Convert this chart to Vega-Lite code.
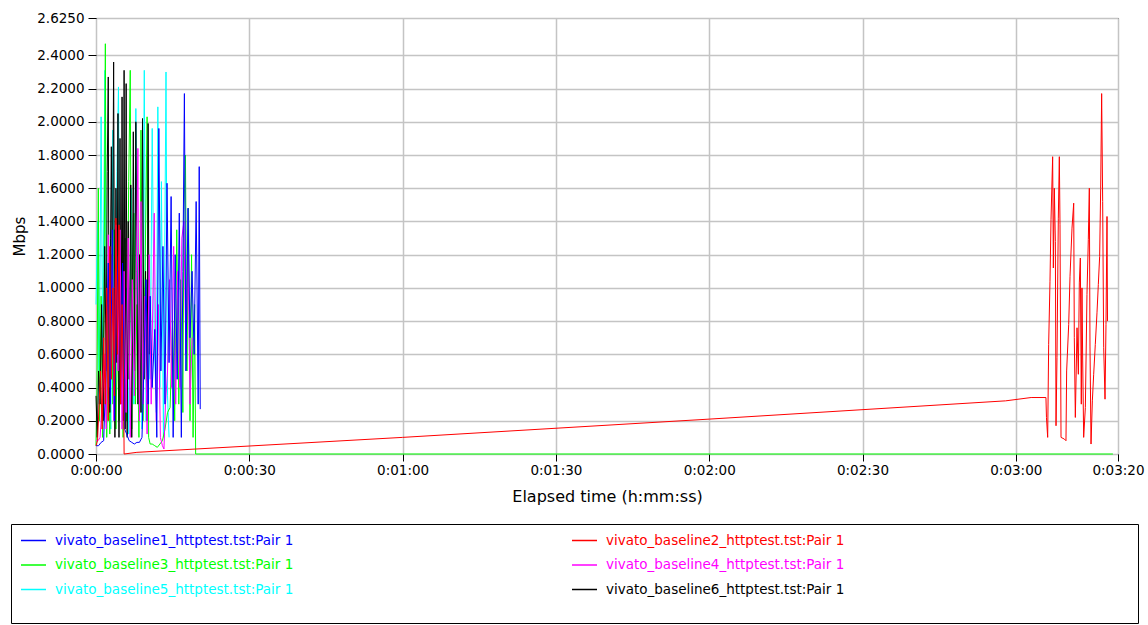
{
 "$schema": "https://vega.github.io/schema/vega-lite/v6.json",
 "padding": {"left": 10, "top": 10, "right": 0, "bottom": 0},
 "background": "#ffffff",
 "datasets": {
  "d": [
   {"series":"vivato_baseline5_httptest.tst:Pair 1","t":0.0,"mbps":0.9},{"series":"vivato_baseline5_httptest.tst:Pair 1","t":0.3,"mbps":1.4},{"series":"vivato_baseline5_httptest.tst:Pair 1","t":0.6,"mbps":0.3},{"series":"vivato_baseline5_httptest.tst:Pair 1","t":1.0,"mbps":2.03},{"series":"vivato_baseline5_httptest.tst:Pair 1","t":1.3,"mbps":0.6},{"series":"vivato_baseline5_httptest.tst:Pair 1","t":1.76,"mbps":2.31},{"series":"vivato_baseline5_httptest.tst:Pair 1","t":2.1,"mbps":0.2},{"series":"vivato_baseline5_httptest.tst:Pair 1","t":2.5,"mbps":1.1},{"series":"vivato_baseline5_httptest.tst:Pair 1","t":2.9,"mbps":0.15},{"series":"vivato_baseline5_httptest.tst:Pair 1","t":3.3,"mbps":1.95},{"series":"vivato_baseline5_httptest.tst:Pair 1","t":3.7,"mbps":0.4},{"series":"vivato_baseline5_httptest.tst:Pair 1","t":4.1,"mbps":1.7},{"series":"vivato_baseline5_httptest.tst:Pair 1","t":4.4,"mbps":2.21},{"series":"vivato_baseline5_httptest.tst:Pair 1","t":4.8,"mbps":0.35},{"series":"vivato_baseline5_httptest.tst:Pair 1","t":5.2,"mbps":1.25},{"series":"vivato_baseline5_httptest.tst:Pair 1","t":5.6,"mbps":0.15},{"series":"vivato_baseline5_httptest.tst:Pair 1","t":6.0,"mbps":1.0},{"series":"vivato_baseline5_httptest.tst:Pair 1","t":6.4,"mbps":0.12},{"series":"vivato_baseline5_httptest.tst:Pair 1","t":6.9,"mbps":1.6},{"series":"vivato_baseline5_httptest.tst:Pair 1","t":7.4,"mbps":0.3},{"series":"vivato_baseline5_httptest.tst:Pair 1","t":7.8,"mbps":2.08},{"series":"vivato_baseline5_httptest.tst:Pair 1","t":8.2,"mbps":0.6},{"series":"vivato_baseline5_httptest.tst:Pair 1","t":8.6,"mbps":1.1},{"series":"vivato_baseline5_httptest.tst:Pair 1","t":9.0,"mbps":0.15},{"series":"vivato_baseline5_httptest.tst:Pair 1","t":9.45,"mbps":2.31},{"series":"vivato_baseline5_httptest.tst:Pair 1","t":9.8,"mbps":0.2},{"series":"vivato_baseline5_httptest.tst:Pair 1","t":10.2,"mbps":1.05},{"series":"vivato_baseline5_httptest.tst:Pair 1","t":10.6,"mbps":0.45},{"series":"vivato_baseline5_httptest.tst:Pair 1","t":11.0,"mbps":1.96},{"series":"vivato_baseline5_httptest.tst:Pair 1","t":11.4,"mbps":0.7},{"series":"vivato_baseline5_httptest.tst:Pair 1","t":11.8,"mbps":0.25},{"series":"vivato_baseline5_httptest.tst:Pair 1","t":12.1,"mbps":2.09},{"series":"vivato_baseline5_httptest.tst:Pair 1","t":12.5,"mbps":0.4},{"series":"vivato_baseline5_httptest.tst:Pair 1","t":12.8,"mbps":1.64},{"series":"vivato_baseline5_httptest.tst:Pair 1","t":13.2,"mbps":0.1},{"series":"vivato_baseline5_httptest.tst:Pair 1","t":13.7,"mbps":2.3},{"series":"vivato_baseline5_httptest.tst:Pair 1","t":14.0,"mbps":0.35},{"series":"vivato_baseline5_httptest.tst:Pair 1","t":14.3,"mbps":0.1},

   {"series":"vivato_baseline3_httptest.tst:Pair 1","t":0.0,"mbps":0.05},{"series":"vivato_baseline3_httptest.tst:Pair 1","t":0.2,"mbps":0.4},{"series":"vivato_baseline3_httptest.tst:Pair 1","t":0.45,"mbps":1.6},{"series":"vivato_baseline3_httptest.tst:Pair 1","t":0.7,"mbps":0.2},{"series":"vivato_baseline3_httptest.tst:Pair 1","t":1.0,"mbps":0.95},{"series":"vivato_baseline3_httptest.tst:Pair 1","t":1.3,"mbps":0.1},{"series":"vivato_baseline3_httptest.tst:Pair 1","t":1.6,"mbps":1.1},{"series":"vivato_baseline3_httptest.tst:Pair 1","t":1.83,"mbps":2.47},{"series":"vivato_baseline3_httptest.tst:Pair 1","t":2.1,"mbps":0.1},{"series":"vivato_baseline3_httptest.tst:Pair 1","t":2.4,"mbps":0.9},{"series":"vivato_baseline3_httptest.tst:Pair 1","t":2.7,"mbps":0.12},{"series":"vivato_baseline3_httptest.tst:Pair 1","t":3.0,"mbps":1.2},{"series":"vivato_baseline3_httptest.tst:Pair 1","t":3.3,"mbps":0.3},{"series":"vivato_baseline3_httptest.tst:Pair 1","t":3.6,"mbps":1.35},{"series":"vivato_baseline3_httptest.tst:Pair 1","t":3.9,"mbps":0.15},{"series":"vivato_baseline3_httptest.tst:Pair 1","t":4.2,"mbps":0.75},{"series":"vivato_baseline3_httptest.tst:Pair 1","t":4.5,"mbps":0.2},{"series":"vivato_baseline3_httptest.tst:Pair 1","t":4.9,"mbps":1.05},{"series":"vivato_baseline3_httptest.tst:Pair 1","t":5.3,"mbps":0.1},{"series":"vivato_baseline3_httptest.tst:Pair 1","t":5.7,"mbps":1.3},{"series":"vivato_baseline3_httptest.tst:Pair 1","t":6.0,"mbps":0.2},{"series":"vivato_baseline3_httptest.tst:Pair 1","t":6.4,"mbps":1.64},{"series":"vivato_baseline3_httptest.tst:Pair 1","t":6.7,"mbps":2.31},{"series":"vivato_baseline3_httptest.tst:Pair 1","t":7.0,"mbps":0.15},{"series":"vivato_baseline3_httptest.tst:Pair 1","t":7.4,"mbps":1.45},{"series":"vivato_baseline3_httptest.tst:Pair 1","t":7.7,"mbps":0.3},{"series":"vivato_baseline3_httptest.tst:Pair 1","t":8.0,"mbps":0.9},{"series":"vivato_baseline3_httptest.tst:Pair 1","t":8.4,"mbps":0.1},{"series":"vivato_baseline3_httptest.tst:Pair 1","t":8.8,"mbps":1.95},{"series":"vivato_baseline3_httptest.tst:Pair 1","t":9.2,"mbps":0.2},{"series":"vivato_baseline3_httptest.tst:Pair 1","t":9.6,"mbps":1.1},{"series":"vivato_baseline3_httptest.tst:Pair 1","t":10.0,"mbps":2.03},{"series":"vivato_baseline3_httptest.tst:Pair 1","t":10.3,"mbps":0.1},{"series":"vivato_baseline3_httptest.tst:Pair 1","t":10.6,"mbps":0.06},{"series":"vivato_baseline3_httptest.tst:Pair 1","t":11.0,"mbps":0.06},{"series":"vivato_baseline3_httptest.tst:Pair 1","t":11.5,"mbps":0.05},{"series":"vivato_baseline3_httptest.tst:Pair 1","t":12.0,"mbps":0.04},{"series":"vivato_baseline3_httptest.tst:Pair 1","t":12.5,"mbps":0.06},{"series":"vivato_baseline3_httptest.tst:Pair 1","t":13.0,"mbps":0.08},{"series":"vivato_baseline3_httptest.tst:Pair 1","t":13.5,"mbps":0.15},{"series":"vivato_baseline3_httptest.tst:Pair 1","t":14.0,"mbps":0.25},{"series":"vivato_baseline3_httptest.tst:Pair 1","t":14.5,"mbps":0.28},{"series":"vivato_baseline3_httptest.tst:Pair 1","t":15.0,"mbps":0.8},{"series":"vivato_baseline3_httptest.tst:Pair 1","t":15.4,"mbps":0.2},{"series":"vivato_baseline3_httptest.tst:Pair 1","t":15.8,"mbps":1.35},{"series":"vivato_baseline3_httptest.tst:Pair 1","t":16.2,"mbps":0.3},{"series":"vivato_baseline3_httptest.tst:Pair 1","t":16.6,"mbps":1.05},{"series":"vivato_baseline3_httptest.tst:Pair 1","t":17.0,"mbps":0.25},{"series":"vivato_baseline3_httptest.tst:Pair 1","t":17.2,"mbps":1.47},{"series":"vivato_baseline3_httptest.tst:Pair 1","t":17.5,"mbps":1.8},{"series":"vivato_baseline3_httptest.tst:Pair 1","t":17.8,"mbps":0.5},{"series":"vivato_baseline3_httptest.tst:Pair 1","t":18.1,"mbps":1.48},{"series":"vivato_baseline3_httptest.tst:Pair 1","t":18.4,"mbps":0.2},{"series":"vivato_baseline3_httptest.tst:Pair 1","t":18.7,"mbps":1.2},{"series":"vivato_baseline3_httptest.tst:Pair 1","t":19.0,"mbps":0.1},{"series":"vivato_baseline3_httptest.tst:Pair 1","t":19.3,"mbps":0.9},{"series":"vivato_baseline3_httptest.tst:Pair 1","t":19.5,"mbps":0.0},{"series":"vivato_baseline3_httptest.tst:Pair 1","t":199.0,"mbps":0.0},

   {"series":"vivato_baseline6_httptest.tst:Pair 1","t":0.0,"mbps":0.35},{"series":"vivato_baseline6_httptest.tst:Pair 1","t":0.25,"mbps":0.1},{"series":"vivato_baseline6_httptest.tst:Pair 1","t":0.5,"mbps":0.5},{"series":"vivato_baseline6_httptest.tst:Pair 1","t":0.8,"mbps":0.3},{"series":"vivato_baseline6_httptest.tst:Pair 1","t":1.1,"mbps":0.9},{"series":"vivato_baseline6_httptest.tst:Pair 1","t":1.4,"mbps":0.2},{"series":"vivato_baseline6_httptest.tst:Pair 1","t":1.7,"mbps":1.25},{"series":"vivato_baseline6_httptest.tst:Pair 1","t":2.0,"mbps":0.5},{"series":"vivato_baseline6_httptest.tst:Pair 1","t":2.2,"mbps":1.7},{"series":"vivato_baseline6_httptest.tst:Pair 1","t":2.4,"mbps":2.27},{"series":"vivato_baseline6_httptest.tst:Pair 1","t":2.55,"mbps":0.6},{"series":"vivato_baseline6_httptest.tst:Pair 1","t":2.7,"mbps":0.25},{"series":"vivato_baseline6_httptest.tst:Pair 1","t":2.85,"mbps":1.3},{"series":"vivato_baseline6_httptest.tst:Pair 1","t":3.0,"mbps":1.85},{"series":"vivato_baseline6_httptest.tst:Pair 1","t":3.2,"mbps":0.9},{"series":"vivato_baseline6_httptest.tst:Pair 1","t":3.45,"mbps":2.36},{"series":"vivato_baseline6_httptest.tst:Pair 1","t":3.6,"mbps":1.0},{"series":"vivato_baseline6_httptest.tst:Pair 1","t":3.7,"mbps":0.1},{"series":"vivato_baseline6_httptest.tst:Pair 1","t":3.9,"mbps":1.6},{"series":"vivato_baseline6_httptest.tst:Pair 1","t":4.1,"mbps":0.55},{"series":"vivato_baseline6_httptest.tst:Pair 1","t":4.3,"mbps":2.05},{"series":"vivato_baseline6_httptest.tst:Pair 1","t":4.5,"mbps":0.1},{"series":"vivato_baseline6_httptest.tst:Pair 1","t":4.7,"mbps":1.9},{"series":"vivato_baseline6_httptest.tst:Pair 1","t":4.9,"mbps":0.3},{"series":"vivato_baseline6_httptest.tst:Pair 1","t":5.1,"mbps":2.15},{"series":"vivato_baseline6_httptest.tst:Pair 1","t":5.3,"mbps":0.2},{"series":"vivato_baseline6_httptest.tst:Pair 1","t":5.5,"mbps":2.31},{"series":"vivato_baseline6_httptest.tst:Pair 1","t":5.7,"mbps":0.15},{"series":"vivato_baseline6_httptest.tst:Pair 1","t":5.9,"mbps":2.23},{"series":"vivato_baseline6_httptest.tst:Pair 1","t":6.1,"mbps":0.1},{"series":"vivato_baseline6_httptest.tst:Pair 1","t":6.3,"mbps":1.4},{"series":"vivato_baseline6_httptest.tst:Pair 1","t":6.5,"mbps":0.45},{"series":"vivato_baseline6_httptest.tst:Pair 1","t":6.8,"mbps":1.62},{"series":"vivato_baseline6_httptest.tst:Pair 1","t":7.0,"mbps":0.1},{"series":"vivato_baseline6_httptest.tst:Pair 1","t":7.3,"mbps":1.94},{"series":"vivato_baseline6_httptest.tst:Pair 1","t":7.55,"mbps":0.5},{"series":"vivato_baseline6_httptest.tst:Pair 1","t":7.8,"mbps":2.0},{"series":"vivato_baseline6_httptest.tst:Pair 1","t":8.2,"mbps":0.3},{"series":"vivato_baseline6_httptest.tst:Pair 1","t":8.5,"mbps":1.2},{"series":"vivato_baseline6_httptest.tst:Pair 1","t":8.8,"mbps":0.25},{"series":"vivato_baseline6_httptest.tst:Pair 1","t":9.1,"mbps":2.02},{"series":"vivato_baseline6_httptest.tst:Pair 1","t":9.4,"mbps":0.45},{"series":"vivato_baseline6_httptest.tst:Pair 1","t":9.7,"mbps":1.1},{"series":"vivato_baseline6_httptest.tst:Pair 1","t":10.0,"mbps":0.2},{"series":"vivato_baseline6_httptest.tst:Pair 1","t":10.2,"mbps":1.99},{"series":"vivato_baseline6_httptest.tst:Pair 1","t":10.4,"mbps":0.6},

   {"series":"vivato_baseline4_httptest.tst:Pair 1","t":0.0,"mbps":0.08},{"series":"vivato_baseline4_httptest.tst:Pair 1","t":0.4,"mbps":0.08},{"series":"vivato_baseline4_httptest.tst:Pair 1","t":0.8,"mbps":0.1},{"series":"vivato_baseline4_httptest.tst:Pair 1","t":1.2,"mbps":0.3},{"series":"vivato_baseline4_httptest.tst:Pair 1","t":1.6,"mbps":0.6},{"series":"vivato_baseline4_httptest.tst:Pair 1","t":2.0,"mbps":0.15},{"series":"vivato_baseline4_httptest.tst:Pair 1","t":2.4,"mbps":1.32},{"series":"vivato_baseline4_httptest.tst:Pair 1","t":2.8,"mbps":0.4},{"series":"vivato_baseline4_httptest.tst:Pair 1","t":3.2,"mbps":1.2},{"series":"vivato_baseline4_httptest.tst:Pair 1","t":3.5,"mbps":0.2},{"series":"vivato_baseline4_httptest.tst:Pair 1","t":3.9,"mbps":1.38},{"series":"vivato_baseline4_httptest.tst:Pair 1","t":4.3,"mbps":0.5},{"series":"vivato_baseline4_httptest.tst:Pair 1","t":4.7,"mbps":1.35},{"series":"vivato_baseline4_httptest.tst:Pair 1","t":5.1,"mbps":0.15},{"series":"vivato_baseline4_httptest.tst:Pair 1","t":5.5,"mbps":1.1},{"series":"vivato_baseline4_httptest.tst:Pair 1","t":5.9,"mbps":0.25},{"series":"vivato_baseline4_httptest.tst:Pair 1","t":6.3,"mbps":1.3},{"series":"vivato_baseline4_httptest.tst:Pair 1","t":6.7,"mbps":0.1},{"series":"vivato_baseline4_httptest.tst:Pair 1","t":7.1,"mbps":1.05},{"series":"vivato_baseline4_httptest.tst:Pair 1","t":7.5,"mbps":0.35},{"series":"vivato_baseline4_httptest.tst:Pair 1","t":7.9,"mbps":1.1},{"series":"vivato_baseline4_httptest.tst:Pair 1","t":8.2,"mbps":1.84},{"series":"vivato_baseline4_httptest.tst:Pair 1","t":8.5,"mbps":0.2},{"series":"vivato_baseline4_httptest.tst:Pair 1","t":8.8,"mbps":1.52},{"series":"vivato_baseline4_httptest.tst:Pair 1","t":9.2,"mbps":0.3},{"series":"vivato_baseline4_httptest.tst:Pair 1","t":9.6,"mbps":0.95},{"series":"vivato_baseline4_httptest.tst:Pair 1","t":10.0,"mbps":0.12},{"series":"vivato_baseline4_httptest.tst:Pair 1","t":10.4,"mbps":1.2},{"series":"vivato_baseline4_httptest.tst:Pair 1","t":10.8,"mbps":0.3},{"series":"vivato_baseline4_httptest.tst:Pair 1","t":11.4,"mbps":1.45},{"series":"vivato_baseline4_httptest.tst:Pair 1","t":11.8,"mbps":0.2},{"series":"vivato_baseline4_httptest.tst:Pair 1","t":12.2,"mbps":0.9},{"series":"vivato_baseline4_httptest.tst:Pair 1","t":12.6,"mbps":0.1},{"series":"vivato_baseline4_httptest.tst:Pair 1","t":13.0,"mbps":0.05},{"series":"vivato_baseline4_httptest.tst:Pair 1","t":13.3,"mbps":0.03},{"series":"vivato_baseline4_httptest.tst:Pair 1","t":13.6,"mbps":0.3},{"series":"vivato_baseline4_httptest.tst:Pair 1","t":14.0,"mbps":0.5},{"series":"vivato_baseline4_httptest.tst:Pair 1","t":14.4,"mbps":1.05},{"series":"vivato_baseline4_httptest.tst:Pair 1","t":14.8,"mbps":0.4},{"series":"vivato_baseline4_httptest.tst:Pair 1","t":15.2,"mbps":1.25},{"series":"vivato_baseline4_httptest.tst:Pair 1","t":15.6,"mbps":0.3},{"series":"vivato_baseline4_httptest.tst:Pair 1","t":16.0,"mbps":1.1},{"series":"vivato_baseline4_httptest.tst:Pair 1","t":16.4,"mbps":0.4},{"series":"vivato_baseline4_httptest.tst:Pair 1","t":16.8,"mbps":1.3},{"series":"vivato_baseline4_httptest.tst:Pair 1","t":17.2,"mbps":1.4},{"series":"vivato_baseline4_httptest.tst:Pair 1","t":17.6,"mbps":0.6},{"series":"vivato_baseline4_httptest.tst:Pair 1","t":18.0,"mbps":1.2},{"series":"vivato_baseline4_httptest.tst:Pair 1","t":18.4,"mbps":0.3},{"series":"vivato_baseline4_httptest.tst:Pair 1","t":18.8,"mbps":0.7},

   {"series":"vivato_baseline1_httptest.tst:Pair 1","t":0.0,"mbps":0.05},{"series":"vivato_baseline1_httptest.tst:Pair 1","t":0.5,"mbps":0.05},{"series":"vivato_baseline1_httptest.tst:Pair 1","t":1.0,"mbps":0.07},{"series":"vivato_baseline1_httptest.tst:Pair 1","t":1.5,"mbps":0.08},{"series":"vivato_baseline1_httptest.tst:Pair 1","t":2.0,"mbps":0.55},{"series":"vivato_baseline1_httptest.tst:Pair 1","t":2.4,"mbps":1.15},{"series":"vivato_baseline1_httptest.tst:Pair 1","t":2.8,"mbps":0.3},{"series":"vivato_baseline1_httptest.tst:Pair 1","t":3.2,"mbps":1.35},{"series":"vivato_baseline1_httptest.tst:Pair 1","t":3.6,"mbps":0.2},{"series":"vivato_baseline1_httptest.tst:Pair 1","t":4.0,"mbps":0.9},{"series":"vivato_baseline1_httptest.tst:Pair 1","t":4.4,"mbps":1.2},{"series":"vivato_baseline1_httptest.tst:Pair 1","t":4.8,"mbps":0.4},{"series":"vivato_baseline1_httptest.tst:Pair 1","t":5.2,"mbps":1.15},{"series":"vivato_baseline1_httptest.tst:Pair 1","t":5.6,"mbps":0.15},{"series":"vivato_baseline1_httptest.tst:Pair 1","t":6.0,"mbps":0.12},{"series":"vivato_baseline1_httptest.tst:Pair 1","t":6.5,"mbps":0.08},{"series":"vivato_baseline1_httptest.tst:Pair 1","t":7.0,"mbps":0.07},{"series":"vivato_baseline1_httptest.tst:Pair 1","t":7.5,"mbps":0.06},{"series":"vivato_baseline1_httptest.tst:Pair 1","t":8.0,"mbps":0.07},{"series":"vivato_baseline1_httptest.tst:Pair 1","t":8.5,"mbps":0.07},{"series":"vivato_baseline1_httptest.tst:Pair 1","t":9.0,"mbps":0.1},{"series":"vivato_baseline1_httptest.tst:Pair 1","t":9.4,"mbps":0.55},{"series":"vivato_baseline1_httptest.tst:Pair 1","t":9.8,"mbps":1.05},{"series":"vivato_baseline1_httptest.tst:Pair 1","t":10.2,"mbps":0.3},{"series":"vivato_baseline1_httptest.tst:Pair 1","t":10.6,"mbps":0.95},{"series":"vivato_baseline1_httptest.tst:Pair 1","t":11.0,"mbps":0.4},{"series":"vivato_baseline1_httptest.tst:Pair 1","t":11.5,"mbps":0.75},{"series":"vivato_baseline1_httptest.tst:Pair 1","t":11.9,"mbps":0.1},{"series":"vivato_baseline1_httptest.tst:Pair 1","t":12.3,"mbps":1.96},{"series":"vivato_baseline1_httptest.tst:Pair 1","t":12.7,"mbps":0.5},{"series":"vivato_baseline1_httptest.tst:Pair 1","t":13.1,"mbps":1.25},{"series":"vivato_baseline1_httptest.tst:Pair 1","t":13.5,"mbps":0.3},{"series":"vivato_baseline1_httptest.tst:Pair 1","t":13.9,"mbps":1.63},{"series":"vivato_baseline1_httptest.tst:Pair 1","t":14.3,"mbps":0.55},{"series":"vivato_baseline1_httptest.tst:Pair 1","t":14.7,"mbps":1.55},{"series":"vivato_baseline1_httptest.tst:Pair 1","t":15.1,"mbps":0.1},{"series":"vivato_baseline1_httptest.tst:Pair 1","t":15.5,"mbps":1.2},{"series":"vivato_baseline1_httptest.tst:Pair 1","t":15.9,"mbps":0.45},{"series":"vivato_baseline1_httptest.tst:Pair 1","t":16.3,"mbps":1.45},{"series":"vivato_baseline1_httptest.tst:Pair 1","t":16.7,"mbps":0.1},{"series":"vivato_baseline1_httptest.tst:Pair 1","t":17.0,"mbps":1.1},{"series":"vivato_baseline1_httptest.tst:Pair 1","t":17.3,"mbps":2.17},{"series":"vivato_baseline1_httptest.tst:Pair 1","t":17.6,"mbps":0.5},{"series":"vivato_baseline1_httptest.tst:Pair 1","t":18.0,"mbps":1.48},{"series":"vivato_baseline1_httptest.tst:Pair 1","t":18.4,"mbps":0.7},{"series":"vivato_baseline1_httptest.tst:Pair 1","t":18.8,"mbps":1.1},{"series":"vivato_baseline1_httptest.tst:Pair 1","t":19.2,"mbps":0.6},{"series":"vivato_baseline1_httptest.tst:Pair 1","t":19.6,"mbps":1.52},{"series":"vivato_baseline1_httptest.tst:Pair 1","t":20.0,"mbps":0.3},{"series":"vivato_baseline1_httptest.tst:Pair 1","t":20.2,"mbps":1.73},{"series":"vivato_baseline1_httptest.tst:Pair 1","t":20.4,"mbps":0.27},

   {"series":"vivato_baseline2_httptest.tst:Pair 1","t":0.0,"mbps":0.05},{"series":"vivato_baseline2_httptest.tst:Pair 1","t":0.3,"mbps":0.08},{"series":"vivato_baseline2_httptest.tst:Pair 1","t":0.65,"mbps":0.33},{"series":"vivato_baseline2_httptest.tst:Pair 1","t":0.9,"mbps":0.5},{"series":"vivato_baseline2_httptest.tst:Pair 1","t":1.2,"mbps":0.15},{"series":"vivato_baseline2_httptest.tst:Pair 1","t":1.5,"mbps":0.7},{"series":"vivato_baseline2_httptest.tst:Pair 1","t":1.8,"mbps":0.3},{"series":"vivato_baseline2_httptest.tst:Pair 1","t":2.1,"mbps":1.0},{"series":"vivato_baseline2_httptest.tst:Pair 1","t":2.4,"mbps":0.2},{"series":"vivato_baseline2_httptest.tst:Pair 1","t":2.7,"mbps":1.25},{"series":"vivato_baseline2_httptest.tst:Pair 1","t":3.0,"mbps":0.45},{"series":"vivato_baseline2_httptest.tst:Pair 1","t":3.3,"mbps":1.0},{"series":"vivato_baseline2_httptest.tst:Pair 1","t":3.6,"mbps":0.35},{"series":"vivato_baseline2_httptest.tst:Pair 1","t":3.9,"mbps":1.42},{"series":"vivato_baseline2_httptest.tst:Pair 1","t":4.2,"mbps":0.6},{"series":"vivato_baseline2_httptest.tst:Pair 1","t":4.5,"mbps":1.38},{"series":"vivato_baseline2_httptest.tst:Pair 1","t":4.8,"mbps":0.3},{"series":"vivato_baseline2_httptest.tst:Pair 1","t":5.1,"mbps":0.9},{"series":"vivato_baseline2_httptest.tst:Pair 1","t":5.4,"mbps":0.45},{"series":"vivato_baseline2_httptest.tst:Pair 1","t":5.5,"mbps":0.0},{"series":"vivato_baseline2_httptest.tst:Pair 1","t":8.0,"mbps":0.01},{"series":"vivato_baseline2_httptest.tst:Pair 1","t":60.0,"mbps":0.1},{"series":"vivato_baseline2_httptest.tst:Pair 1","t":120.0,"mbps":0.21},{"series":"vivato_baseline2_httptest.tst:Pair 1","t":178.0,"mbps":0.32},{"series":"vivato_baseline2_httptest.tst:Pair 1","t":183.0,"mbps":0.34},{"series":"vivato_baseline2_httptest.tst:Pair 1","t":185.9,"mbps":0.34},{"series":"vivato_baseline2_httptest.tst:Pair 1","t":186.0,"mbps":0.22},{"series":"vivato_baseline2_httptest.tst:Pair 1","t":186.24,"mbps":0.1},{"series":"vivato_baseline2_httptest.tst:Pair 1","t":186.43,"mbps":0.66},{"series":"vivato_baseline2_httptest.tst:Pair 1","t":186.69,"mbps":1.04},{"series":"vivato_baseline2_httptest.tst:Pair 1","t":186.89,"mbps":1.41},{"series":"vivato_baseline2_httptest.tst:Pair 1","t":187.21,"mbps":1.79},{"series":"vivato_baseline2_httptest.tst:Pair 1","t":187.35,"mbps":1.12},{"series":"vivato_baseline2_httptest.tst:Pair 1","t":187.54,"mbps":1.6},{"series":"vivato_baseline2_httptest.tst:Pair 1","t":187.74,"mbps":1.28},{"series":"vivato_baseline2_httptest.tst:Pair 1","t":187.87,"mbps":0.17},{"series":"vivato_baseline2_httptest.tst:Pair 1","t":188.06,"mbps":0.58},{"series":"vivato_baseline2_httptest.tst:Pair 1","t":188.32,"mbps":1.42},{"series":"vivato_baseline2_httptest.tst:Pair 1","t":188.52,"mbps":1.79},{"series":"vivato_baseline2_httptest.tst:Pair 1","t":188.65,"mbps":1.38},{"series":"vivato_baseline2_httptest.tst:Pair 1","t":188.85,"mbps":0.1},{"series":"vivato_baseline2_httptest.tst:Pair 1","t":189.5,"mbps":0.09},{"series":"vivato_baseline2_httptest.tst:Pair 1","t":189.82,"mbps":0.08},{"series":"vivato_baseline2_httptest.tst:Pair 1","t":189.95,"mbps":0.5},{"series":"vivato_baseline2_httptest.tst:Pair 1","t":190.35,"mbps":0.78},{"series":"vivato_baseline2_httptest.tst:Pair 1","t":190.61,"mbps":1.07},{"series":"vivato_baseline2_httptest.tst:Pair 1","t":191.0,"mbps":1.36},{"series":"vivato_baseline2_httptest.tst:Pair 1","t":191.33,"mbps":1.51},{"series":"vivato_baseline2_httptest.tst:Pair 1","t":191.45,"mbps":0.7},{"series":"vivato_baseline2_httptest.tst:Pair 1","t":191.65,"mbps":0.22},{"series":"vivato_baseline2_httptest.tst:Pair 1","t":191.98,"mbps":0.76},{"series":"vivato_baseline2_httptest.tst:Pair 1","t":192.24,"mbps":0.48},{"series":"vivato_baseline2_httptest.tst:Pair 1","t":192.43,"mbps":1.03},{"series":"vivato_baseline2_httptest.tst:Pair 1","t":192.63,"mbps":1.18},{"series":"vivato_baseline2_httptest.tst:Pair 1","t":192.82,"mbps":0.3},{"series":"vivato_baseline2_httptest.tst:Pair 1","t":192.95,"mbps":1.0},{"series":"vivato_baseline2_httptest.tst:Pair 1","t":193.09,"mbps":0.56},{"series":"vivato_baseline2_httptest.tst:Pair 1","t":193.28,"mbps":0.1},{"series":"vivato_baseline2_httptest.tst:Pair 1","t":193.61,"mbps":0.28},{"series":"vivato_baseline2_httptest.tst:Pair 1","t":193.93,"mbps":0.96},{"series":"vivato_baseline2_httptest.tst:Pair 1","t":194.19,"mbps":1.29},{"series":"vivato_baseline2_httptest.tst:Pair 1","t":194.39,"mbps":1.6},{"series":"vivato_baseline2_httptest.tst:Pair 1","t":194.52,"mbps":0.65},{"series":"vivato_baseline2_httptest.tst:Pair 1","t":194.72,"mbps":0.06},{"series":"vivato_baseline2_httptest.tst:Pair 1","t":194.98,"mbps":0.32},{"series":"vivato_baseline2_httptest.tst:Pair 1","t":195.24,"mbps":0.48},{"series":"vivato_baseline2_httptest.tst:Pair 1","t":195.56,"mbps":0.66},{"series":"vivato_baseline2_httptest.tst:Pair 1","t":195.89,"mbps":0.85},{"series":"vivato_baseline2_httptest.tst:Pair 1","t":196.15,"mbps":1.02},{"series":"vivato_baseline2_httptest.tst:Pair 1","t":196.41,"mbps":1.19},{"series":"vivato_baseline2_httptest.tst:Pair 1","t":196.61,"mbps":1.6},{"series":"vivato_baseline2_httptest.tst:Pair 1","t":196.8,"mbps":2.17},{"series":"vivato_baseline2_httptest.tst:Pair 1","t":197.0,"mbps":1.52},{"series":"vivato_baseline2_httptest.tst:Pair 1","t":197.2,"mbps":0.64},{"series":"vivato_baseline2_httptest.tst:Pair 1","t":197.46,"mbps":0.33},{"series":"vivato_baseline2_httptest.tst:Pair 1","t":197.65,"mbps":0.78},{"series":"vivato_baseline2_httptest.tst:Pair 1","t":197.85,"mbps":1.43},{"series":"vivato_baseline2_httptest.tst:Pair 1","t":197.95,"mbps":0.8}
  ],
  "names": [
   {"series": "vivato_baseline1_httptest.tst:Pair 1"},
   {"series": "vivato_baseline2_httptest.tst:Pair 1"},
   {"series": "vivato_baseline3_httptest.tst:Pair 1"},
   {"series": "vivato_baseline4_httptest.tst:Pair 1"},
   {"series": "vivato_baseline5_httptest.tst:Pair 1"},
   {"series": "vivato_baseline6_httptest.tst:Pair 1"}
  ]
 },
 "concat": [
  {
   "hconcat": [
    {
     "width": 85,
     "height": 436,
     "view": {"stroke": null, "fill": null},
     "data": {"name": "names"},
     "mark": {"type": "point", "opacity": 0},
     "encoding": {}
    },
    {
     "width": 1022,
     "height": 436,
     "data": {"name": "d"},
     "mark": {"type": "line", "strokeWidth": 1, "clip": false},
     "encoding": {
      "x": {
       "field": "t", "type": "quantitative",
       "scale": {"domain": [0, 200], "nice": false, "zero": false},
       "axis": {
        "title": "Elapsed time (h:mm:ss)",
        "values": [0, 30, 60, 90, 120, 150, 180, 200],
        "labelExpr": "'0:0' + floor(datum.value / 60) + ':' + ((datum.value % 60) < 10 ? '0' : '') + (datum.value % 60)",
        "labelFlush": false, "labelOverlap": false,
        "tickSize": 7, "labelPadding": 2,
        "titleFontSize": 16, "titlePadding": 12
       }
      },
      "y": {
       "field": "mbps", "type": "quantitative",
       "scale": {"domain": [0, 2.625], "nice": false},
       "axis": {
        "title": "Mbps",
        "values": [0, 0.2, 0.4, 0.6, 0.8, 1.0, 1.2, 1.4, 1.6, 1.8, 2.0, 2.2, 2.4, 2.625],
        "format": ".4f",
        "labelFlush": false, "labelOverlap": false,
        "tickSize": 8, "labelPadding": 4,
        "titleFontSize": 15, "titlePadding": 9.5
       }
      },
      "color": {
       "field": "series", "type": "nominal",
       "scale": {
        "domain": ["vivato_baseline1_httptest.tst:Pair 1", "vivato_baseline2_httptest.tst:Pair 1", "vivato_baseline3_httptest.tst:Pair 1", "vivato_baseline4_httptest.tst:Pair 1", "vivato_baseline5_httptest.tst:Pair 1", "vivato_baseline6_httptest.tst:Pair 1"],
        "range": ["#0000ff", "#ff0000", "#00ff00", "#ff00ff", "#00ffff", "#000000"]
       },
       "legend": null
      }
     }
    }
   ],
   "spacing": 0,
   "bounds": "flush"
  },
  {
   "width": 1127,
   "height": 99,
   "view": {"stroke": "#000000", "strokeWidth": 1, "fill": "#ffffff"},
   "data": {"name": "names"},
   "mark": {"type": "line", "opacity": 0},
   "encoding": {
    "color": {
     "field": "series", "type": "nominal",
     "legend": {
      "title": null,
      "orient": "none",
      "direction": "horizontal",
      "legendX": 9,
      "legendY": 3,
      "columns": 2,
      "columnPadding": 275,
      "rowPadding": 4.5,
      "symbolType": "stroke",
      "symbolSize": 625,
      "symbolStrokeWidth": 1.5,
      "symbolOpacity": 1,
      "labelOffset": 8,
      "labelFont": "DejaVu Sans",
      "labelFontSize": 13.5,
      "labelLimit": 500,
      "padding": 0,
      "encode": {"labels": {"update": {"fill": {"scale": "color", "field": "value"}}}}
     }
    }
   }
  }
 ],
 "columns": 1,
 "align": "none",
 "bounds": "full",
 "spacing": 18,
 "resolve": {"scale": {"color": "shared"}, "legend": {"color": "independent"}},
 "config": {
  "view": {"stroke": "#000000", "strokeWidth": 1},
  "font": "DejaVu Sans",
  "axis": {
   "labelFont": "DejaVu Sans", "labelFontSize": 13.5, "labelColor": "#000000",
   "titleFont": "DejaVu Sans", "titleFontWeight": "normal", "titleColor": "#000000",
   "domain": false, "tickColor": "#000000", "tickWidth": 1,
   "grid": true, "gridColor": "#c4c4c4", "gridWidth": 1.5, "gridOpacity": 1
  },
  "legend": {"labelColor": "#000000"}
 }
}
